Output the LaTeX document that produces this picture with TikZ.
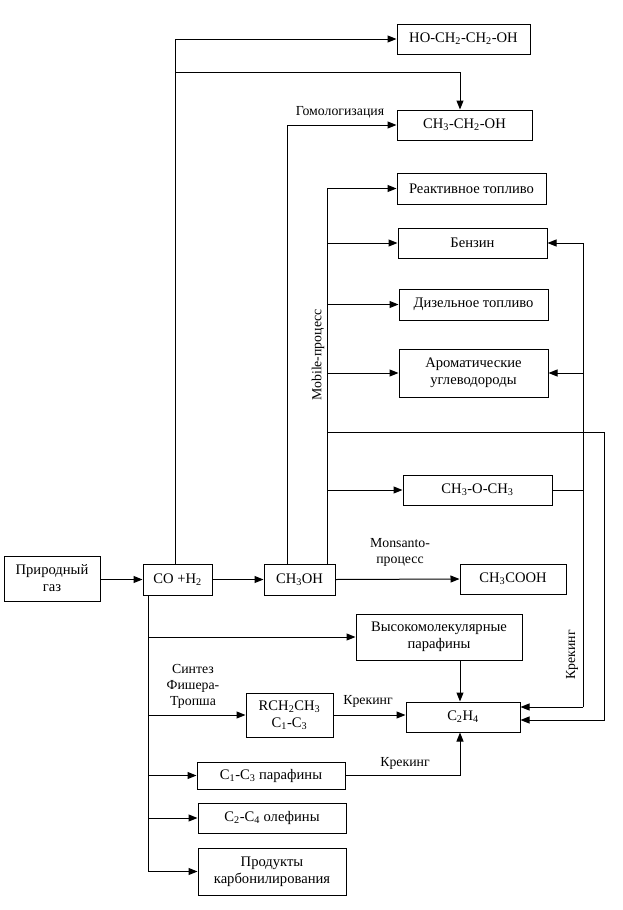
\documentclass[tikz,border=0pt]{standalone}
\usepackage{fontspec}
\setmainfont{Liberation Serif}
\usetikzlibrary{arrows.meta,calc}
\newcommand{\sbs}[1]{\textsubscript{#1}}
\begin{document}
\begin{tikzpicture}[x=1pt,y=-1pt,
  every node/.style={font=\fontsize{13.8}{16}\selectfont},
  box/.style={draw,line width=1pt,inner sep=1pt,align=center,font=\fontsize{14.6}{17}\selectfont},
  lbl/.style={inner sep=0pt,align=center},
  arr/.style={-{Triangle[length=9pt,width=7pt]}},
  line width=1pt]
\useasboundingbox (0,0) rectangle (623,910);
% boxes
\node[box,minimum width=133pt,minimum height=30pt] (ho) at (463.5,39) {HO-CH\sbs{2}-CH\sbs{2}-OH};
\node[box,minimum width=135pt,minimum height=30pt] (eth) at (464.5,125) {CH\sbs{3}-CH\sbs{2}-OH};
\node[box,minimum width=149pt,minimum height=31pt] (jet) at (471.5,188.5) {Реактивное топливо};
\node[box,minimum width=149pt,minimum height=30pt] (benz) at (472.5,243) {Бензин};
\node[box,minimum width=149pt,minimum height=31pt] (diz) at (473.5,304.5) {Дизельное топливо};
\node[box,minimum width=149pt,minimum height=48pt] (arom) at (473.5,373) {Ароматические\\углеводороды};
\node[box,minimum width=149pt,minimum height=30pt] (dme) at (477.5,490) {CH\sbs{3}-O-CH\sbs{3}};
\node[box,minimum width=96pt,minimum height=45pt] (gas) at (52,578.5) {Природный\\газ};
\node[box,minimum width=69pt,minimum height=31pt] (syn) at (177.5,579.5) {CO +H\sbs{2}};
\node[box,minimum width=71pt,minimum height=31pt] (meoh) at (299.5,579.5) {CH\sbs{3}OH};
\node[box,minimum width=106pt,minimum height=30pt] (acid) at (513,579) {CH\sbs{3}COOH};
\node[box,minimum width=166pt,minimum height=46pt] (hmp) at (439,637) {Высокомолекулярные\\парафины};
\node[box,minimum width=114pt,minimum height=30pt] (c2h4) at (463,717) {C\sbs{2}H\sbs{4}};
\node[box,minimum width=87pt,minimum height=44pt] (rch) at (289.5,715) {RCH\sbs{2}CH\sbs{3}\\C\sbs{1}-C\sbs{3}};
\node[box,minimum width=148pt,minimum height=27pt] (par) at (271,775.5) {C\sbs{1}-C\sbs{3} парафины};
\node[box,minimum width=148pt,minimum height=30pt] (ole) at (272,818) {C\sbs{2}-C\sbs{4} олефины};
\node[box,minimum width=148pt,minimum height=47pt] (carb) at (272,871.5) {Продукты\\карбонилирования};
% labels
\node[lbl] (lhom) at (340,112) {Гомологизация};
\node[lbl,rotate=90] (lmob) at (318,355) {Mobile-процесс};
\node[lbl,rotate=90] (lkr1) at (572,655) {Крекинг};
\node[lbl] (lmon) at (400,552) {Monsanto-\\процесс};
\node[lbl] (lft) at (193,686) {Синтез\\Фишера-\\Тропша};
\node[lbl] (lkr2) at (368,701) {Крекинг};
\node[lbl] (lkr3) at (405,763) {Крекинг};
% helper coordinates
\coordinate (xA) at (175,0);
\coordinate (yA) at (0,72);
\coordinate (xB) at (148,0);
\coordinate (xC) at (287,0);
\coordinate (xM) at (327,0);
\coordinate (xK) at (583,0);
\coordinate (xR) at (604,0);
\coordinate (yR) at (0,432);
\coordinate (xE) at (460,0);
\coordinate (c2e1) at ($(c2h4.east)+(0,-10)$);
\coordinate (c2e2) at ($(c2h4.east)+(0,3)$);
% connectors
\draw[arr] (gas.east |- syn.west) -- (syn.west);
\draw[arr] (syn.east) -- (meoh.west);
\draw[arr] (syn.north -| xA) |- (ho.west);
\draw[arr] (yA -| xA) -| (xE |- eth.north);
\draw[arr] (meoh.north -| xC) |- (eth.west);
% mobile
\draw[arr] (meoh.north -| xM) |- (jet.west);
\draw[arr] (benz.west -| xM) -- (benz.west);
\draw[arr] (diz.west -| xM) -- (diz.west);
\draw[arr] (arom.west -| xM) -- (arom.west);
\draw[arr] (dme.west -| xM) -- (dme.west);
\draw[arr] (yR -| xM) -- (yR -| xR) |- (c2e2);
% cracking trunk
\draw[arr] (c2e1 -| xK) |- (benz.east);
\draw[arr] (c2e1 -| xK) -- (c2e1);
\draw[arr] (arom.east -| xK) -- (arom.east);
\draw (dme.east) -- (dme.east -| xK);
% monsanto
\draw[arr] (meoh.east) -- (acid.west);
% Fischer-Tropsch trunk
\draw (syn.south -| xB) -- (carb.west -| xB);
\draw[arr] (hmp.west -| xB) -- (hmp.west);
\draw[arr] (rch.west -| xB) -- (rch.west);
\draw[arr] (par.west -| xB) -- (par.west);
\draw[arr] (ole.west -| xB) -- (ole.west);
\draw[arr] (carb.west -| xB) -- (carb.west);
\draw[arr] (hmp.south -| xE) -- (xE |- c2h4.north);
\draw[arr] (rch.east) -- (c2h4.west |- rch.east);
\draw[arr] (par.east) -| (xE |- c2h4.south);
\end{tikzpicture}
\end{document}
